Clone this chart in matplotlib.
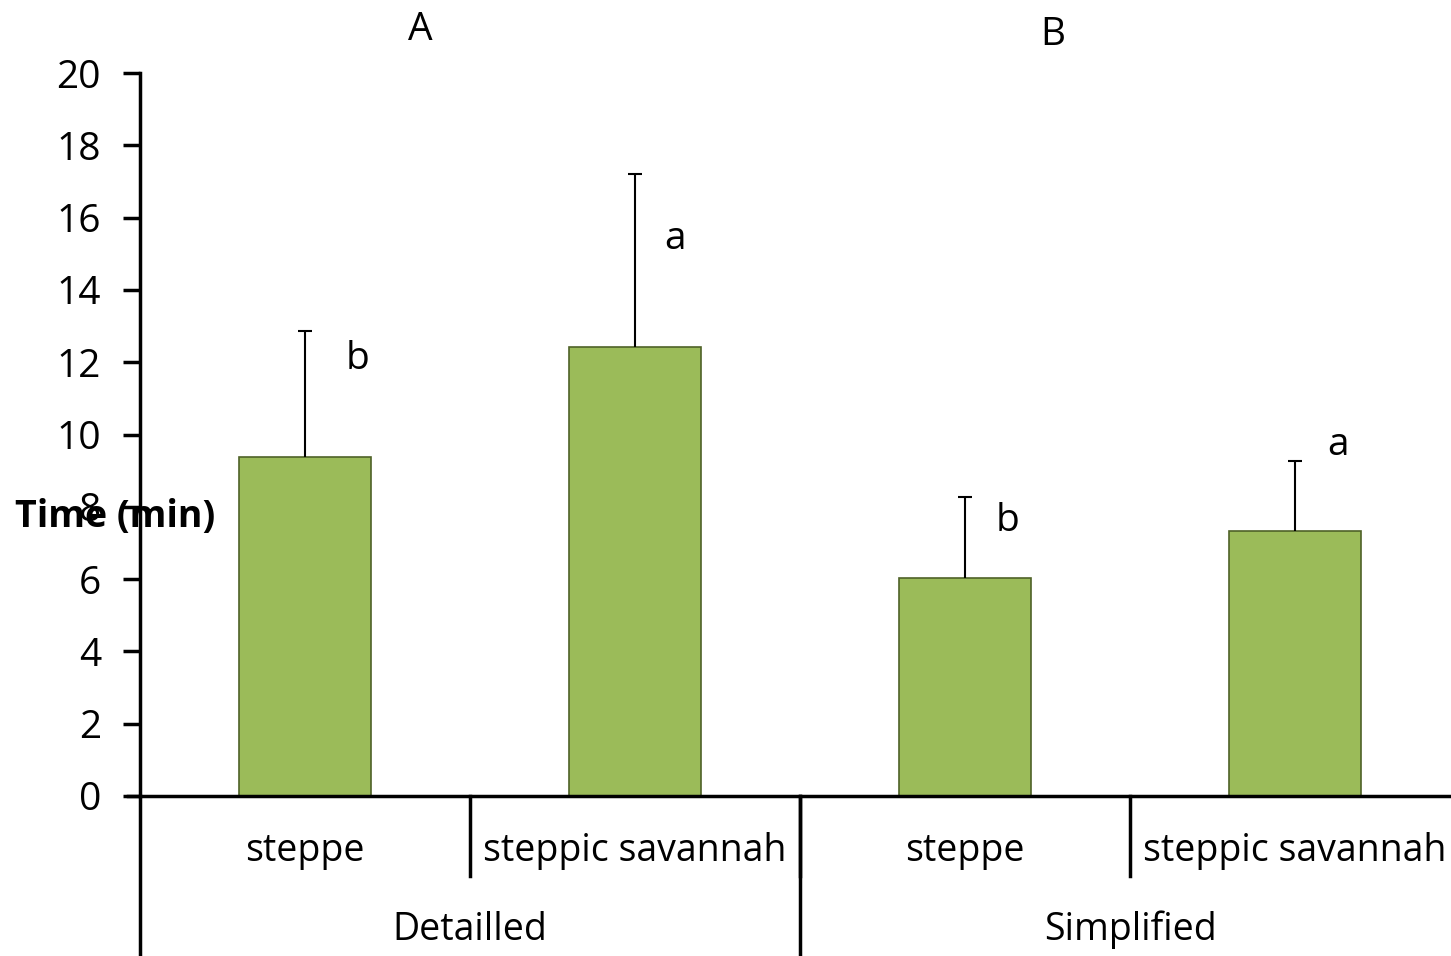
import matplotlib
matplotlib.use("Agg")
import matplotlib.pyplot as plt

# Data
categories = ["steppe", "steppic savannah", "steppe", "steppic savannah"]
groups = ["Detailled", "Simplified"]
panel_titles = ["A", "B"]
mean_time = [9.38, 12.42, 6.03, 7.33]
err_time = [3.47, 4.78, 2.24, 1.94]
letters = ["b", "a", "b", "a"]
letter_heights = [12.1, 15.4, 7.6, 9.7]
letter_offsets = [0.16, 0.12, 0.13, 0.13]

plt.rcParams["font.family"] = ["Open Sans", "DejaVu Sans"]

W, H = 1451, 956
fig = plt.figure(figsize=(W / 100, H / 100), dpi=100)
ax = fig.add_axes([140 / W, 1 - 796 / H, 1320 / W, (796 - 73) / H])

x = list(range(len(categories)))
ax.bar(x, mean_time, width=0.4, color="#9BBB59", edgecolor="#4F6228", linewidth=1.2, zorder=2)

# upper error bars only
tops = [m + e for m, e in zip(mean_time, err_time)]
ax.vlines(x, mean_time, tops, color="black", linewidth=1.5, zorder=3)
ax.plot(x, tops, linestyle="none", marker="_", markersize=10, markeredgewidth=1.5,
        color="black", zorder=3)

for xi, lab, h, dx in zip(x, letters, letter_heights, letter_offsets):
    ax.text(xi + dx, h, lab, ha="center", va="center", fontsize=28)

ax.set_xlim(-0.5, len(categories) - 0.5)
ax.set_ylim(0, 20)
ax.set_yticks(range(0, 21, 2))
ax.tick_params(axis="y", direction="out", length=12, width=2.5, labelsize=28, pad=16)
ax.set_xticks([])
for side in ["top", "right", "bottom"]:
    ax.spines[side].set_visible(False)
ax.spines["left"].set_linewidth(2.5)

def ay(pix):
    return -(pix - 796) / (796 - 73)

xt = ax.get_xaxis_transform()

# x axis line, extended left by the tick length
ax.plot([-0.5 - 12 / 330, 3.5], [0, 0], transform=xt, color="black",
        linewidth=2.5, clip_on=False, zorder=4)

# Category separators
for b in [0.5, 1.5, 2.5]:
    ax.plot([b, b], [ay(796), ay(876)], transform=xt,
            color="black", linewidth=2.5, clip_on=False)
for b in [-0.5, 1.5]:
    ax.plot([b, b], [ay(796), ay(960)], transform=xt,
            color="black", linewidth=2.5, clip_on=False)

for xi, cat in zip(x, categories):
    ax.text(xi, ay(851), cat, transform=xt, ha="center", va="center", fontsize=27)
for gi, g in enumerate(groups):
    ax.text(gi * 2 + 0.5, ay(930), g, transform=xt, ha="center", va="center", fontsize=27)

# Panel titles
fig.text(420 / W, 1 - 30 / H, panel_titles[0], ha="center", va="center", fontsize=28)
fig.text(1053 / W, 1 - 35 / H, panel_titles[1], ha="center", va="center", fontsize=28)

# y label
fig.text(15 / W, 1 - 517 / H, "Time (min)", ha="left", va="center",
         fontsize=27, fontweight="bold")

fig.savefig("out.png", dpi=100)
